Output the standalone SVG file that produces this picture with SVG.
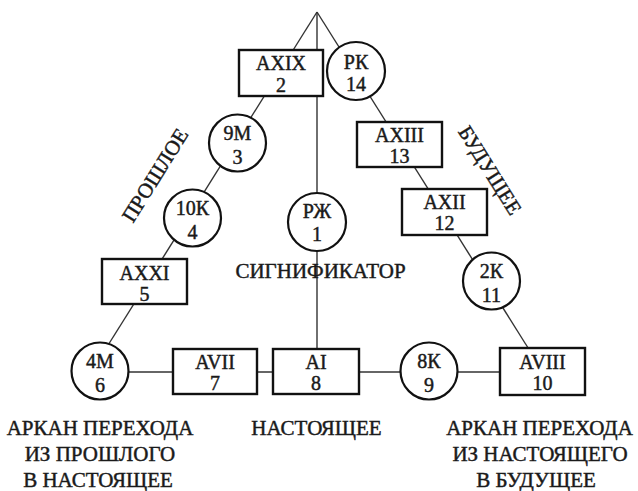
<svg xmlns="http://www.w3.org/2000/svg" width="638" height="491" viewBox="0 0 638 491">
<style>
.conn{stroke:#333;stroke-width:1.4;fill:none}
.box{fill:#fff;stroke:#111;stroke-width:2.4}
.circ{fill:#fff;stroke:#111;stroke-width:2.2}
text{font-family:"Liberation Serif","DejaVu Serif",serif;fill:#1a1a1a;stroke:#1a1a1a;stroke-width:0.45;text-anchor:middle}
.n{font-size:20px}
.l{font-size:21px}
</style>
<rect width="638" height="491" fill="#fff"/>
<g id="connectors">
<line class="conn" x1="317" y1="12" x2="105" y2="350"/>
<line class="conn" x1="317" y1="12" x2="530" y2="351"/>
<line class="conn" x1="317" y1="12" x2="317" y2="349"/>
<line class="conn" x1="110" y1="372" x2="530" y2="372"/>
</g>
<g id="n2"><rect class="box" x="239" y="50" width="84" height="46"/><text class="n" x="281" y="70">AXIX</text><text class="n" x="281" y="92">2</text></g>
<g id="n14"><circle class="circ" cx="356" cy="71" r="29"/><text class="n" x="356" y="69">РК</text><text class="n" x="356" y="91">14</text></g>
<g id="n3"><circle class="circ" cx="237.5" cy="143" r="28.5"/><text class="n" x="237.5" y="140">9М</text><text class="n" x="237.5" y="164">3</text></g>
<g id="n4"><circle class="circ" cx="192.5" cy="218" r="28.5"/><text class="n" x="192.5" y="215">10К</text><text class="n" x="192.5" y="239">4</text></g>
<g id="n5"><rect class="box" x="102" y="259" width="85" height="45"/><text class="n" x="144.5" y="280">AXXI</text><text class="n" x="144.5" y="301">5</text></g>
<g id="n6"><circle class="circ" cx="100" cy="371" r="28.5"/><text class="n" x="100" y="368">4М</text><text class="n" x="100" y="392">6</text></g>
<g id="n7"><rect class="box" x="173" y="349" width="84" height="45"/><text class="n" x="215" y="369">AVII</text><text class="n" x="215" y="390">7</text></g>
<g id="n8"><rect class="box" x="273" y="349" width="86" height="45"/><text class="n" x="316" y="369">AI</text><text class="n" x="316" y="390">8</text></g>
<g id="n9"><circle class="circ" cx="429" cy="371" r="28.5"/><text class="n" x="429" y="368">8К</text><text class="n" x="429" y="392">9</text></g>
<g id="n10"><rect class="box" x="500" y="348" width="85" height="47"/><text class="n" x="542.5" y="369">AVIII</text><text class="n" x="542.5" y="390">10</text></g>
<g id="n11"><circle class="circ" cx="491.5" cy="281" r="28.5"/><text class="n" x="491.5" y="278">2К</text><text class="n" x="491.5" y="302">11</text></g>
<g id="n12"><rect class="box" x="402" y="189" width="85" height="46"/><text class="n" x="444.5" y="209">AXII</text><text class="n" x="444.5" y="230">12</text></g>
<g id="n13"><rect class="box" x="357" y="122" width="85" height="45"/><text class="n" x="399.5" y="142">AXIII</text><text class="n" x="399.5" y="163">13</text></g>
<g id="n1"><circle class="circ" cx="317" cy="222" r="29"/><text class="n" x="317" y="218">РЖ</text><text class="n" x="317" y="241">1</text></g>
<g id="labels">
<text class="l" x="320.5" y="278">СИГНИФИКАТОР</text>
<text class="l" transform="translate(161,179) rotate(-58)">ПРОШЛОЕ</text>
<text class="l" transform="translate(484,174) rotate(58)">БУДУЩЕЕ</text>
<text class="l" x="100" y="435">АРКАН ПЕРЕХОДА</text>
<text class="l" x="100" y="461">ИЗ ПРОШЛОГО</text>
<text class="l" x="98" y="487">В НАСТОЯЩЕЕ</text>
<text class="l" x="316.5" y="435">НАСТОЯЩЕЕ</text>
<text class="l" x="539.5" y="435">АРКАН ПЕРЕХОДА</text>
<text class="l" x="540" y="461">ИЗ НАСТОЯЩЕГО</text>
<text class="l" x="536" y="487">В БУДУЩЕЕ</text>
</g>
</svg>
